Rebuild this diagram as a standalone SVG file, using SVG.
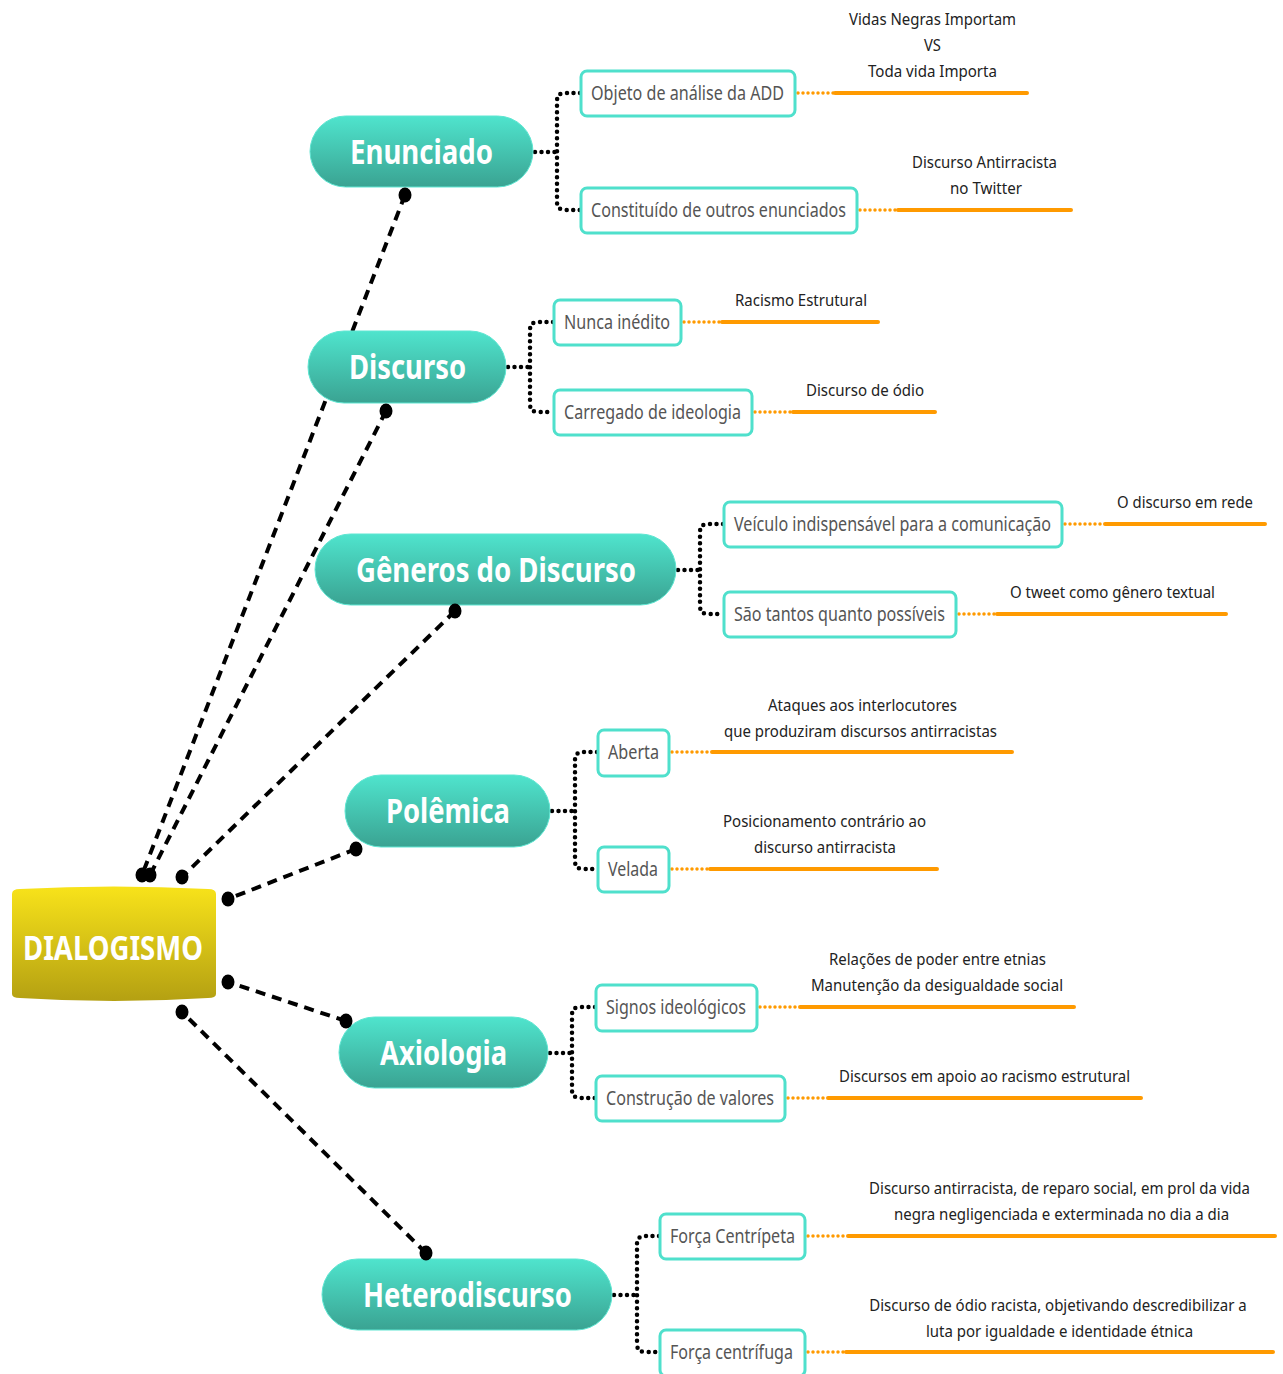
<svg xmlns="http://www.w3.org/2000/svg" width="1283" height="1374" viewBox="0 0 1283 1374">
<defs>
<linearGradient id="teal" x1="0" y1="0" x2="0" y2="1">
<stop offset="0" stop-color="#4fe4cd"/>
<stop offset="1" stop-color="#3aa392"/>
</linearGradient>
<linearGradient id="gold" x1="0" y1="0" x2="0" y2="1">
<stop offset="0" stop-color="#f8e31a"/>
<stop offset="1" stop-color="#b4a012"/>
</linearGradient>
<style>
.main{fill:url(#teal);stroke:#5fe6d2;stroke-width:1}
.mt{font-family:"Noto Sans","Open Sans",sans-serif;font-weight:700;font-size:34px;fill:#fff;text-anchor:middle}
.sub{fill:#fff;stroke:#4fe0cc;stroke-width:3}
.st{font-family:"Noto Sans","Open Sans",sans-serif;font-size:19px;fill:#555;text-anchor:middle}
.lt{font-family:"Noto Sans","Open Sans",sans-serif;font-size:17px;fill:#222;text-anchor:middle}
.dash{fill:none;stroke:#000;stroke-width:4;stroke-dasharray:10 7}
.dot{fill:none;stroke:#000;stroke-width:4.5;stroke-linecap:round;stroke-dasharray:0 6.5}
.odot{fill:none;stroke:#ff9a00;stroke-width:3.5;stroke-linecap:round;stroke-dasharray:0 5}
.oline{fill:none;stroke:#ff9a00;stroke-width:4;stroke-linecap:round}
.end{fill:#000}
</style>
</defs>
<rect width="1283" height="1374" fill="#fff"/>

<g id="connectors">
<line class="dash" x1="405" y1="195" x2="142" y2="875"/>
<line class="dash" x1="386" y1="411" x2="150" y2="875"/>
<line class="dash" x1="455" y1="611" x2="182" y2="877"/>
<line class="dash" x1="356" y1="849" x2="228" y2="899"/>
<line class="dash" x1="346" y1="1021" x2="228" y2="982"/>
<line class="dash" x1="426" y1="1253" x2="182" y2="1012"/>
<path class="dot" d="M535,152 H557 M580,93 H565 Q557,93 557,101 V202 Q557,210 565,210 H580"/>
<path class="dot" d="M508,367 H530 M553,322 H538 Q530,322 530,330 V404 Q530,412 538,412 H553"/>
<path class="dot" d="M678,570 H700 M723,524 H708 Q700,524 700,532 V606 Q700,614 708,614 H723"/>
<path class="dot" d="M552,811 H575 M597,752 H583 Q575,752 575,760 V861 Q575,869 583,869 H597"/>
<path class="dot" d="M550,1053 H572 M595,1007 H580 Q572,1007 572,1015 V1090 Q572,1098 580,1098 H595"/>
<path class="dot" d="M614,1295 H637 M659,1236 H645 Q637,1236 637,1244 V1344 Q637,1352 645,1352 H659"/>
<path class="odot" d="M798,93 H835 M860,210 H898 M684,322 H722 M755,412 H793 M1065,524 H1105 M959,614 H997 M672,752 H712 M672,869 H710 M760,1007 H800 M788,1098 H828 M808,1236 H848 M808,1352 H846"/>
<path class="oline" d="M835,93 H1027 M898,210 H1071 M722,322 H878 M793,412 H935 M1105,524 H1265 M997,614 H1226 M712,752 H1012 M710,869 H937 M800,1007 H1074 M828,1098 H1141 M848,1236 H1275 M846,1352 H1273"/>
</g>

<g id="DIALOGISMO">
<path d="M12,894 Q12,889 20,889 Q114,884 208,889 Q216,889 216,894 V994 Q216,998 208,998 Q114,1004 20,998 Q12,998 12,994 Z" fill="url(#gold)"/>
<text class="mt" x="113" y="960" textLength="180" lengthAdjust="spacingAndGlyphs">DIALOGISMO</text>
</g>

<g id="enunciado">
<rect class="main" x="310" y="116" width="223" height="71" rx="35.5"/>
<text class="mt" x="421.5" y="164" textLength="143" lengthAdjust="spacingAndGlyphs">Enunciado</text>
</g>
<g id="discurso">
<rect class="main" x="308" y="331" width="198" height="72" rx="36"/>
<text class="mt" x="407.5" y="379" textLength="117" lengthAdjust="spacingAndGlyphs">Discurso</text>
</g>
<g id="generos">
<rect class="main" x="315" y="534" width="361" height="71" rx="35.5"/>
<text class="mt" x="496" y="582" textLength="280" lengthAdjust="spacingAndGlyphs">Gêneros do Discurso</text>
</g>
<g id="polemica">
<rect class="main" x="345" y="775" width="205" height="72" rx="36"/>
<text class="mt" x="448" y="823" textLength="124" lengthAdjust="spacingAndGlyphs">Polêmica</text>
</g>
<g id="axiologia">
<rect class="main" x="339" y="1017" width="209" height="71" rx="35.5"/>
<text class="mt" x="443.5" y="1065" textLength="127" lengthAdjust="spacingAndGlyphs">Axiologia</text>
</g>
<g id="heterodiscurso">
<rect class="main" x="322" y="1259" width="290" height="71" rx="35.5"/>
<text class="mt" x="467.5" y="1307" textLength="209" lengthAdjust="spacingAndGlyphs">Heterodiscurso</text>
</g>

<g id="objeto">
<rect class="sub" x="581" y="71" width="214" height="45" rx="6"/>
<text class="st" x="687.5" y="100" textLength="193" lengthAdjust="spacingAndGlyphs">Objeto de análise da ADD</text>
</g>
<g id="constituido">
<rect class="sub" x="581" y="188" width="276" height="45" rx="6"/>
<text class="st" x="718.5" y="217" textLength="255" lengthAdjust="spacingAndGlyphs">Constituído de outros enunciados</text>
</g>
<g id="nunca">
<rect class="sub" x="554" y="300" width="127" height="45" rx="6"/>
<text class="st" x="617" y="329" textLength="106" lengthAdjust="spacingAndGlyphs">Nunca inédito</text>
</g>
<g id="carregado">
<rect class="sub" x="554" y="390" width="198" height="45" rx="6"/>
<text class="st" x="652.5" y="419" textLength="177" lengthAdjust="spacingAndGlyphs">Carregado de ideologia</text>
</g>
<g id="veiculo">
<rect class="sub" x="724" y="502" width="338" height="45" rx="6"/>
<text class="st" x="892.5" y="531" textLength="317" lengthAdjust="spacingAndGlyphs">Veículo indispensável para a comunicação</text>
</g>
<g id="sao-tantos">
<rect class="sub" x="724" y="592" width="232" height="45" rx="6"/>
<text class="st" x="839.5" y="621" textLength="211" lengthAdjust="spacingAndGlyphs">São tantos quanto possíveis</text>
</g>
<g id="aberta">
<rect class="sub" x="598" y="730" width="71" height="46" rx="6"/>
<text class="st" x="633.5" y="759" textLength="51" lengthAdjust="spacingAndGlyphs">Aberta</text>
</g>
<g id="velada">
<rect class="sub" x="598" y="847" width="71" height="45" rx="6"/>
<text class="st" x="633" y="876" textLength="50" lengthAdjust="spacingAndGlyphs">Velada</text>
</g>
<g id="signos">
<rect class="sub" x="596" y="985" width="161" height="46" rx="6"/>
<text class="st" x="676" y="1014" textLength="140" lengthAdjust="spacingAndGlyphs">Signos ideológicos</text>
</g>
<g id="construcao">
<rect class="sub" x="596" y="1076" width="189" height="45" rx="6"/>
<text class="st" x="690" y="1105" textLength="168" lengthAdjust="spacingAndGlyphs">Construção de valores</text>
</g>
<g id="centripeta">
<rect class="sub" x="660" y="1214" width="145" height="45" rx="6"/>
<text class="st" x="732.5" y="1243" textLength="125" lengthAdjust="spacingAndGlyphs">Força Centrípeta</text>
</g>
<g id="centrifuga">
<rect class="sub" x="660" y="1330" width="145" height="46" rx="6"/>
<text class="st" x="731.5" y="1359" textLength="123" lengthAdjust="spacingAndGlyphs">Força centrífuga</text>
</g>

<g id="labels">
<text class="lt" x="932.5" y="25" textLength="167" lengthAdjust="spacingAndGlyphs">Vidas Negras Importam</text>
<text class="lt" x="932.5" y="51" textLength="17" lengthAdjust="spacingAndGlyphs">VS</text>
<text class="lt" x="932.5" y="77" textLength="129" lengthAdjust="spacingAndGlyphs">Toda vida Importa</text>
<text class="lt" x="984.5" y="168" textLength="145" lengthAdjust="spacingAndGlyphs">Discurso Antirracista</text>
<text class="lt" x="986" y="194" textLength="72" lengthAdjust="spacingAndGlyphs">no Twitter</text>
<text class="lt" x="801" y="306" textLength="132" lengthAdjust="spacingAndGlyphs">Racismo Estrutural</text>
<text class="lt" x="865" y="396" textLength="118" lengthAdjust="spacingAndGlyphs">Discurso de ódio</text>
<text class="lt" x="1185" y="508" textLength="136" lengthAdjust="spacingAndGlyphs">O discurso em rede</text>
<text class="lt" x="1112.5" y="598" textLength="205" lengthAdjust="spacingAndGlyphs">O tweet como gênero textual</text>
<text class="lt" x="862.5" y="711" textLength="189" lengthAdjust="spacingAndGlyphs">Ataques aos interlocutores</text>
<text class="lt" x="860.5" y="737" textLength="273" lengthAdjust="spacingAndGlyphs">que produziram discursos antirracistas</text>
<text class="lt" x="824.5" y="827" textLength="203" lengthAdjust="spacingAndGlyphs">Posicionamento contrário ao</text>
<text class="lt" x="825" y="853" textLength="142" lengthAdjust="spacingAndGlyphs">discurso antirracista</text>
<text class="lt" x="937.5" y="965" textLength="217" lengthAdjust="spacingAndGlyphs">Relações de poder entre etnias</text>
<text class="lt" x="937" y="991" textLength="252" lengthAdjust="spacingAndGlyphs">Manutenção da desigualdade social</text>
<text class="lt" x="984.5" y="1082" textLength="291" lengthAdjust="spacingAndGlyphs">Discursos em apoio ao racismo estrutural</text>
<text class="lt" transform="translate(1059.5,1194) scale(0.8,1)" x="0" y="0" textLength="476" lengthAdjust="spacingAndGlyphs">Discurso antirracista, de reparo social, em prol da vida</text>
<text class="lt" transform="translate(1061.5,1220) scale(0.8,1)" x="0" y="0" textLength="419" lengthAdjust="spacingAndGlyphs">negra negligenciada e exterminada no dia a dia</text>
<text class="lt" transform="translate(1058,1311) scale(0.8,1)" x="0" y="0" textLength="472" lengthAdjust="spacingAndGlyphs">Discurso de ódio racista, objetivando descredibilizar a</text>
<text class="lt" transform="translate(1059.5,1337) scale(0.8,1)" x="0" y="0" textLength="334" lengthAdjust="spacingAndGlyphs">luta por igualdade e identidade étnica</text>
</g>

<g id="connector-ends">
<ellipse class="end" cx="405" cy="195" rx="6.5" ry="7.5"/>
<ellipse class="end" cx="142" cy="875" rx="6.5" ry="7.5"/>
<ellipse class="end" cx="386" cy="411" rx="6.5" ry="7.5"/>
<ellipse class="end" cx="150" cy="875" rx="6.5" ry="7.5"/>
<ellipse class="end" cx="455" cy="611" rx="6.5" ry="7.5"/>
<ellipse class="end" cx="182" cy="877" rx="6.5" ry="7.5"/>
<ellipse class="end" cx="356" cy="849" rx="6.5" ry="7.5"/>
<ellipse class="end" cx="228" cy="899" rx="6.5" ry="7.5"/>
<ellipse class="end" cx="346" cy="1021" rx="6.5" ry="7.5"/>
<ellipse class="end" cx="228" cy="982" rx="6.5" ry="7.5"/>
<ellipse class="end" cx="426" cy="1253" rx="6.5" ry="7.5"/>
<ellipse class="end" cx="182" cy="1012" rx="6.5" ry="7.5"/>
</g>
</svg>
